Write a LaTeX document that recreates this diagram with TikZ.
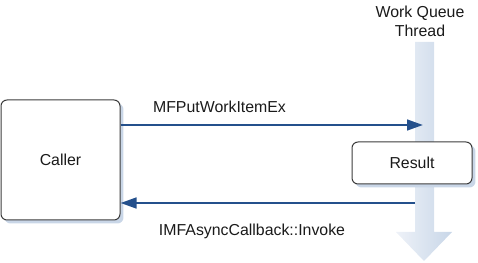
\documentclass[tikz,border=0pt]{standalone}
\usepackage{fontspec}
\setmainfont{Liberation Sans}
\usetikzlibrary{positioning, arrows.meta, calc, shadows}
\definecolor{callblue}{HTML}{24508C}
\definecolor{boxline}{HTML}{3C3C3C}
\definecolor{shadowblue}{HTML}{C9D6E7}
\definecolor{barlight}{HTML}{EEF2F8}
\definecolor{bardark}{HTML}{C8D6E8}
\definecolor{textmain}{HTML}{1A1A1A}

\begin{document}
\begin{tikzpicture}[
    x=0.75pt, y=-0.75pt,
    party/.style={rectangle, draw=boxline, fill=white, text=textmain, line width=0.75pt,
                  rounded corners=4.5pt, align=center, font=\fontsize{11.9}{14}\selectfont,
                  drop shadow={shadow xshift=2.6pt, shadow yshift=-2.6pt, fill=shadowblue, opacity=1}},
    call/.style={-{Triangle[length=12pt, width=8pt]}, line width=1.9pt, callblue},
    label/.style={text=textmain, font=\fontsize{11.9}{14}\selectfont, inner sep=0pt}
  ]
    \useasboundingbox (0,0) rectangle (478,263);

    % work queue thread
    \shade[left color=barlight, right color=bardark]
      (415,42) -- (434,42) -- (434,232) -- (452,232) -- (424,261)
      -- (396,232) -- (415,232) -- cycle;
    \node[label, align=center] (thread) at (420,21) {Work Queue\\Thread};

    \node[party, minimum width=119*0.75pt, minimum height=120*0.75pt] (caller) at (60.5,160) {Caller};
    \node[party, minimum width=120*0.75pt, minimum height=42*0.75pt] (result) at (412,163) {Result};

    \coordinate (putend) at (423,125);
    \coordinate (invokestart) at (415,203);

    \draw[call] (caller.east |- putend) -- (putend);
    \draw[call] (invokestart) -- (caller.east |- invokestart);

    \node[label] (put) at (219.5,107) {MFPutWorkItemEx};
    \node[label, anchor=base] (invoke) at (252,236) {IMFAsyncCallback::Invoke};
  \end{tikzpicture}
\end{document}
